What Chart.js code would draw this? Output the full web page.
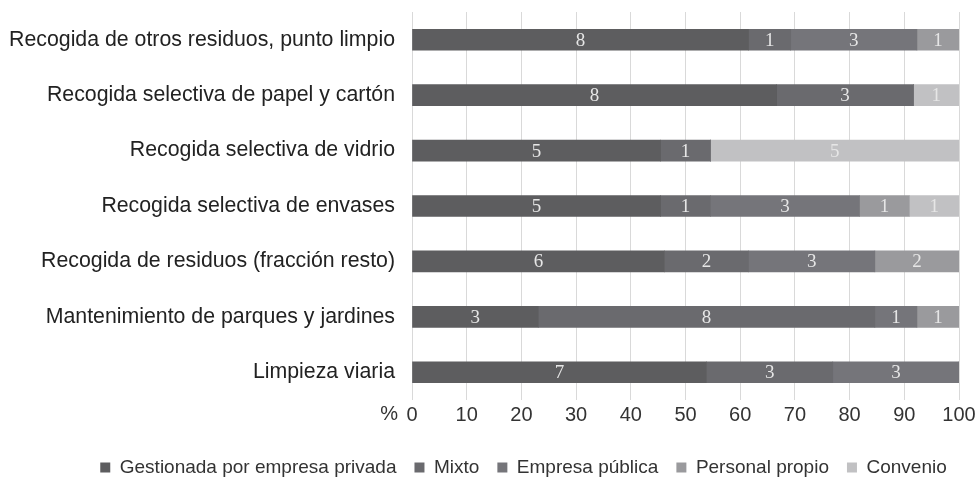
<!DOCTYPE html>
<html>
<head>
<meta charset="utf-8">
<script src="https://cdn.jsdelivr.net/npm/chart.js@4/dist/chart.umd.min.js"></script>
<style>
html,body{margin:0;padding:0;background:#fff;}
#wrap{width:978px;height:480px;}
</style>
</head>
<body>
<div id="wrap"><canvas id="c" width="978" height="480"></canvas></div>
<script>
const categories = [
  "Recogida de otros residuos, punto limpio",
  "Recogida selectiva de papel y cartón",
  "Recogida selectiva de vidrio",
  "Recogida selectiva de envases",
  "Recogida de residuos (fracción resto)",
  "Mantenimiento de parques y jardines",
  "Limpieza viaria"
];
const seriesNames = ["Gestionada por empresa privada", "Mixto", "Empresa pública", "Personal propio", "Convenio"];
// counts (number of municipalities) per category
const privada  = [8, 8, 5, 5, 6, 3, 7];
const mixto    = [1, 3, 1, 1, 2, 8, 3];
const publica  = [3, 0, 0, 3, 3, 1, 3];
const propio   = [1, 0, 0, 1, 2, 1, 0];
const convenio = [0, 1, 5, 1, 0, 0, 0];
const xTicks = [0,10,20,30,40,50,60,70,80,90,100];

const colors = ["#5d5d5f", "#6a6a6e", "#75757a", "#9a9a9d", "#c1c1c3"];
const counts = [privada, mixto, publica, propio, convenio];
const totals = categories.map((_, i) => counts.reduce((s, a) => s + a[i], 0));

const datasets = counts.map((arr, k) => ({
  label: seriesNames[k],
  data: arr.map((v, i) => v / totals[i] * 100),
  counts: arr,
  backgroundColor: colors[k],
  borderWidth: 0,
  barThickness: 21
}));

const SANS = '"Liberation Sans", Arial, sans-serif';

const labelPlugin = {
  id: 'labels',
  afterLayout(chart) {
    // shift legend slightly right, as in the reference
    if (chart.legend) { chart.legend.left += 44; chart.legend.right += 44; }
  },
  afterDatasetsDraw(chart) {
    const ctx = chart.ctx;
    ctx.save();
    ctx.font = '19px "Liberation Serif", "DejaVu Serif", serif';
    ctx.fillStyle = '#e6e6e6';
    ctx.textAlign = 'center';
    ctx.textBaseline = 'middle';
    chart.data.datasets.forEach((ds, di) => {
      const meta = chart.getDatasetMeta(di);
      meta.data.forEach((bar, i) => {
        const c = ds.counts[i];
        if (!c) return;
        const cx = (bar.x + bar.base) / 2;
        ctx.fillText(String(c), cx, bar.y + 1);
      });
    });
    const xs = chart.scales.x;
    ctx.font = '20px ' + SANS;
    ctx.fillStyle = '#333';
    ctx.textAlign = 'right';
    ctx.fillText('%', xs.left - 14, xs.top + 14);
    ctx.restore();
  }
};

new Chart(document.getElementById('c'), {
  type: 'bar',
  data: { labels: categories, datasets },
  options: {
    indexAxis: 'y',
    responsive: false,
    animation: false,
    layout: { padding: { top: 12, right: 19, left: 0, bottom: -7 } },
    scales: {
      x: {
        stacked: true,
        min: 0, max: 100,
        afterBuildTicks(scale) { scale.ticks = xTicks.map(v => ({ value: v })); },
        grid: { color: '#d9d9d9', lineWidth: 1, drawTicks: false },
        border: { display: false },
        ticks: { color: '#333', font: { family: SANS, size: 20 }, padding: 3 },
        afterFit(scale) { scale.height = 40; scale.paddingLeft = 0; scale.paddingRight = 0; }
      },
      y: {
        stacked: true,
        grid: { display: false, drawTicks: false },
        border: { display: false },
        ticks: { color: '#222', font: { family: SANS, size: 21.3 }, padding: 17 },
        afterFit(scale) { scale.width = 412; scale.paddingTop = 0; scale.paddingBottom = 0; }
      }
    },
    plugins: {
      legend: {
        position: 'bottom',
        labels: {
          color: '#333',
          font: { family: SANS, size: 19 },
          boxWidth: 10, boxHeight: 10, padding: 18
        }
      },
      tooltip: { enabled: false }
    }
  },
  plugins: [labelPlugin]
});
</script>
</body>
</html>
